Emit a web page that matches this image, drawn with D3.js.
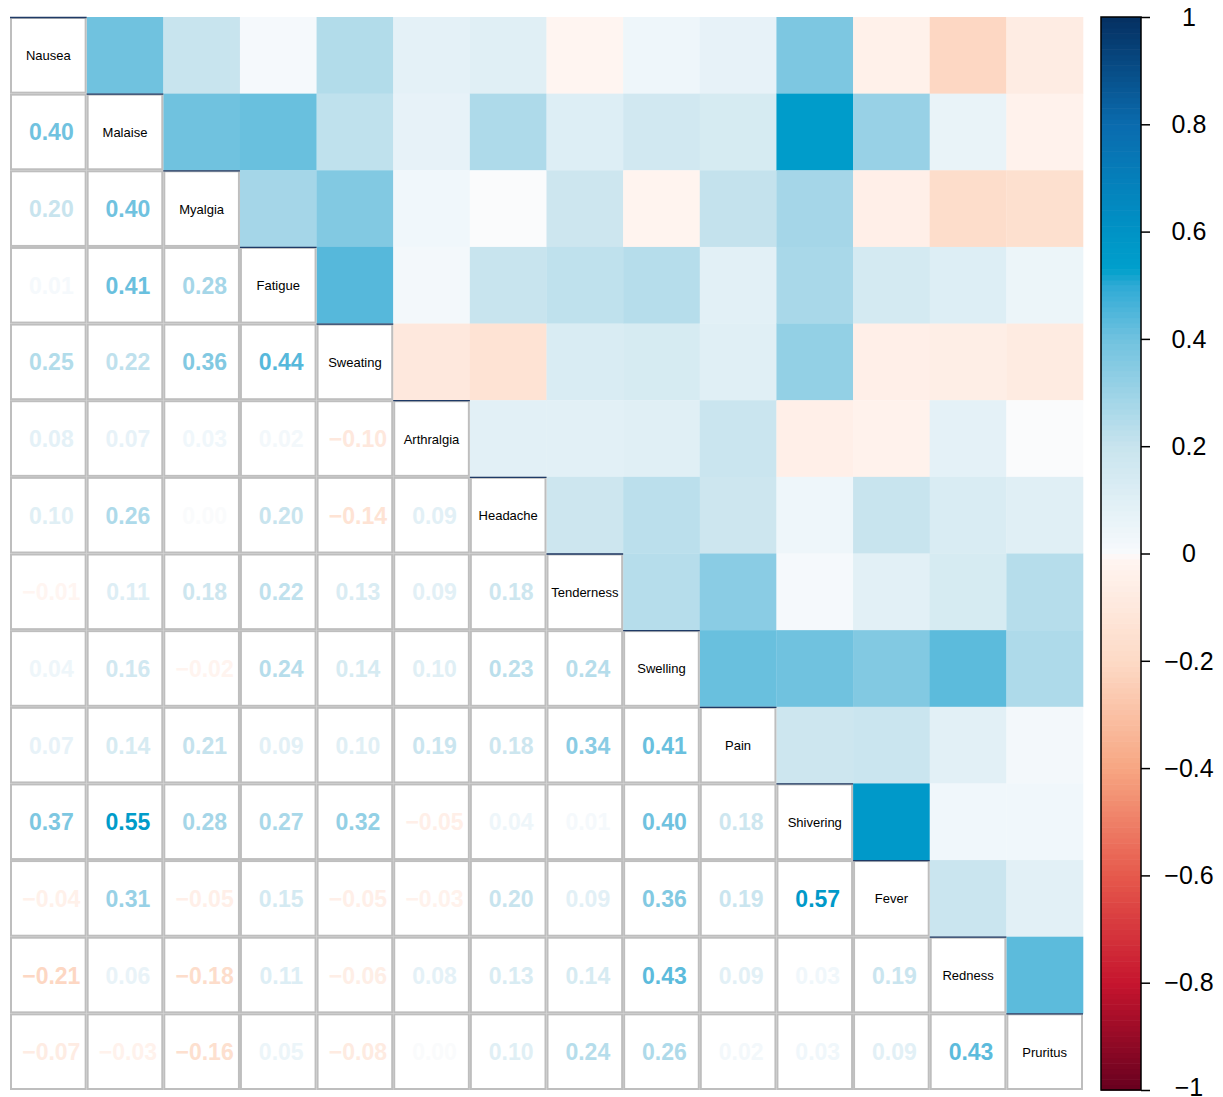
<!DOCTYPE html>
<html>
<head>
<meta charset="utf-8">
<script src="https://cdn.jsdelivr.net/npm/d3@7"></script>
<style>
  html, body { margin: 0; padding: 0; background: #ffffff; }
  svg { display: block; }
</style>
</head>
<body>
<svg id="chart" width="1223" height="1097"></svg>
<script>
// Symptom names, in matrix order
const symptoms = ["Nausea", "Malaise", "Myalgia", "Fatigue", "Sweating", "Arthralgia",
  "Headache", "Tenderness", "Swelling", "Pain", "Shivering", "Fever", "Redness", "Pruritus"];

// Lower-triangle correlation coefficients: row i holds r(i, j) for j < i
const lowerRows = [
  [],
  [0.40],
  [0.20, 0.40],
  [0.01, 0.41, 0.28],
  [0.25, 0.22, 0.36, 0.44],
  [0.08, 0.07, 0.03, 0.02, -0.10],
  [0.10, 0.26, 0.00, 0.20, -0.14, 0.09],
  [-0.01, 0.11, 0.18, 0.22, 0.13, 0.09, 0.18],
  [0.04, 0.16, -0.02, 0.24, 0.14, 0.10, 0.23, 0.24],
  [0.07, 0.14, 0.21, 0.09, 0.10, 0.19, 0.18, 0.34, 0.41],
  [0.37, 0.55, 0.28, 0.27, 0.32, -0.05, 0.04, 0.01, 0.40, 0.18],
  [-0.04, 0.31, -0.05, 0.15, -0.05, -0.03, 0.20, 0.09, 0.36, 0.19, 0.57],
  [-0.21, 0.06, -0.18, 0.11, -0.06, 0.08, 0.13, 0.14, 0.43, 0.09, 0.03, 0.19],
  [-0.07, -0.03, -0.16, 0.05, -0.08, 0.00, 0.10, 0.24, 0.26, 0.02, 0.03, 0.09, 0.43]
];

// Colour-key ticks
const legendTicks = [-1, -0.8, -0.6, -0.4, -0.2, 0, 0.2, 0.4, 0.6, 0.8, 1];

// Diverging palette, red (negative) through near-white to blue (positive)
const paletteStops = [-1, -0.8, -0.6, -0.4, -0.2, -0.01, 0, 0.01, 0.2, 0.4, 0.5, 0.53, 0.6, 0.8, 1];
const paletteColors = ["#67001F", "#C6152E", "#E6594C", "#F7A682", "#FDDAC6", "#FFF5F1",
  "#FAFBFC", "#F5F9FC", "#C8E4EE", "#70C2DF", "#2EAAD5", "#00A0CC", "#0093C6", "#0A6BAE", "#053061"];

const svg = d3.select("#chart");
const gridLeft = 10, gridTop = 17, gridSize = 1073;

const x = d3.scaleBand().domain(symptoms).range([gridLeft, gridLeft + gridSize]);
const y = d3.scaleBand().domain(symptoms).range([gridTop, gridTop + gridSize]);
const color = d3.scaleLinear().domain(paletteStops).range(paletteColors)
  .interpolate(d3.interpolateRgb).clamp(true);

// Build cell list from the lower triangle (mirrored to the upper one)
const cells = [];
lowerRows.forEach((row, i) => {
  row.forEach((v, j) => {
    cells.push({ r: symptoms[i], c: symptoms[j], v, part: "lower" });
    cells.push({ r: symptoms[j], c: symptoms[i], v, part: "upper" });
  });
});
const lower = cells.filter(d => d.part === "lower");
const upper = cells.filter(d => d.part === "upper");

const bw = x.bandwidth();

// Upper triangle: filled squares
svg.append("g").selectAll("rect").data(upper).join("rect")
  .attr("x", d => x(d.c))
  .attr("y", d => y(d.r))
  .attr("width", bw + 0.3)
  .attr("height", bw + 0.3)
  .attr("fill", d => color(d.v));

// Lower triangle: white cells with grey grid
svg.append("g").selectAll("rect").data(lower).join("rect")
  .attr("x", d => x(d.c) + 1)
  .attr("y", d => y(d.r) + 1)
  .attr("width", bw - 2)
  .attr("height", bw - 2)
  .attr("fill", "#ffffff")
  .attr("stroke", "#bebebe")
  .attr("stroke-width", 2);

// Coefficient numbers, coloured by value
const fmt = v => (v < 0 ? "\u2212" : "") + Math.abs(v).toFixed(2);
svg.append("g").selectAll("text").data(lower).join("text")
  .attr("x", d => x(d.c) + bw / 2 + 3)
  .attr("y", d => y(d.r) + bw / 2 + 8.5)
  .attr("text-anchor", "middle")
  .attr("font-family", "'Liberation Sans', Arial, Helvetica, sans-serif")
  .attr("font-weight", "bold")
  .attr("font-size", 23)
  .attr("fill", d => color(d.v))
  .text(d => fmt(d.v));

// Diagonal: variable names
const diag = svg.append("g");
diag.selectAll("rect.cell").data(symptoms).join("rect")
  .attr("class", "cell")
  .attr("x", d => x(d) + 1)
  .attr("y", d => y(d) + 1)
  .attr("width", bw - 2)
  .attr("height", bw - 2)
  .attr("fill", "#ffffff")
  .attr("stroke", "#bebebe")
  .attr("stroke-width", 2);
diag.selectAll("line").data(symptoms).join("line")
  .attr("x1", d => x(d))
  .attr("x2", d => x(d) + bw)
  .attr("y1", d => y(d) + 0.5)
  .attr("y2", d => y(d) + 0.5)
  .attr("stroke", "#1f3a66")
  .attr("stroke-width", 1.3);
diag.selectAll("text").data(symptoms).join("text")
  .attr("x", d => x(d) + bw / 2)
  .attr("y", d => y(d) + bw / 2 + 5)
  .attr("text-anchor", "middle")
  .attr("font-family", "'Liberation Sans', Arial, Helvetica, sans-serif")
  .attr("font-size", 13)
  .attr("fill", "#000000")
  .text(d => d);

// Colour key
const keyX = 1101, keyW = 40;
const ky = d3.scaleLinear().domain([-1, 1]).range([gridTop + gridSize, gridTop]);
const steps = d3.range(200).map(i => -1 + (i + 0.5) * 0.01);
const key = svg.append("g");
key.selectAll("rect").data(steps).join("rect")
  .attr("x", keyX)
  .attr("y", d => ky(d + 0.005))
  .attr("width", keyW)
  .attr("height", ky(-0.995) - ky(-0.985) + 0.6)
  .attr("fill", d => color(d));
key.append("rect")
  .attr("x", keyX).attr("y", gridTop)
  .attr("width", keyW).attr("height", gridSize)
  .attr("fill", "none").attr("stroke", "#000").attr("stroke-width", 1.5);

const axis = d3.axisRight(ky).tickValues(legendTicks).tickSize(9).tickPadding(0)
  .tickFormat(d3.format(".1~f"));
const ax = key.append("g").attr("transform", `translate(${keyX + keyW},0)`).call(axis);
ax.select(".domain").remove();
ax.selectAll(".tick line").attr("stroke", "#000").attr("stroke-width", 1.5);
ax.selectAll(".tick text")
  .attr("x", 48)
  .attr("y", d => (d === -1 ? -3 : 0))
  .attr("dy", "0.33em")
  .attr("text-anchor", "middle")
  .attr("font-family", "'Liberation Sans', Arial, Helvetica, sans-serif")
  .attr("font-size", 25)
  .attr("fill", "#000");
</script>
</body>
</html>
